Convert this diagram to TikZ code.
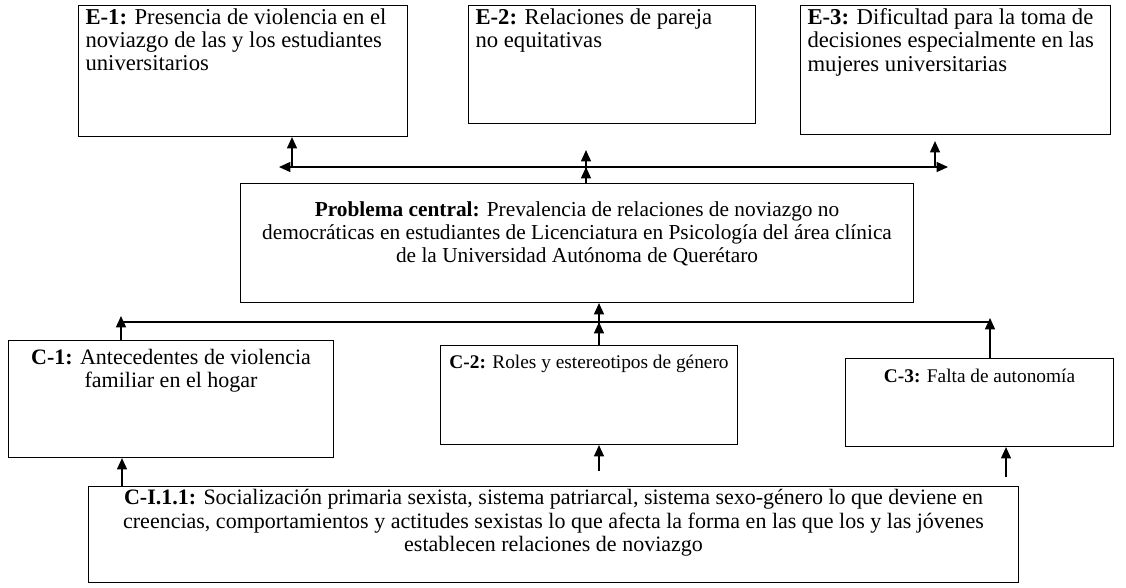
\documentclass[tikz,border=0pt]{standalone}
\usepackage{fontspec}
\setmainfont{Liberation Serif}
\usetikzlibrary{positioning, arrows.meta}

\newcommand{\boxtext}[3]{\begin{minipage}[t][#2pt][t]{#1pt}#3\end{minipage}}

\begin{document}
\begin{tikzpicture}[
    x=0.75pt, y=-0.75pt,
    every node/.style={font=\fontsize{16}{17.5}\selectfont},
    box/.style={rectangle, draw, line width=0.8pt, anchor=north west, inner xsep=5.25pt, inner ysep=2.25pt},
    big/.style={font=\fontsize{17}{17.5}\selectfont},
    small/.style={font=\fontsize{14.5}{16}\selectfont},
    link/.style={line width=1pt, -{Triangle[length=8.5pt, width=7.5pt]}},
    >={Triangle[length=8.5pt, width=7.5pt]}
]
\useasboundingbox (0,0) rectangle (1126,587);

% efectos
\node[box, big] (E1) at (78,5) {\boxtext{236.25}{93.75}{\raggedright\textbf{E-1:} Presencia de violencia en el\\ noviazgo de las y los estudiantes\\ universitarios}};
\node[box, big] (E2) at (468,5) {\boxtext{204.75}{84}{\raggedright\textbf{E-2:} Relaciones de pareja\\ no equitativas}};
\node[box, big] (E3) at (800,5) {\boxtext{222}{92.25}{\raggedright\textbf{E-3:} Dificultad para la toma de\\ decisiones especialmente en las\\ mujeres universitarias}};

% problema
\node[box] (central) at (240,183) {\boxtext{494.25}{84.75}{\centering\vspace*{11pt}\textbf{Problema central:} Prevalencia de relaciones de noviazgo no\\ democráticas en estudiantes de Licenciatura en Psicología del área clínica\\ de la Universidad Autónoma de Querétaro}};

% causas
\node[box, font=\fontsize{16.5}{17.5}\selectfont] (C1) at (8,340) {\boxtext{233.25}{83.25}{\centering\vspace*{4pt}\textbf{C-1:} Antecedentes de violencia\\ familiar en el hogar}};
\node[box, small] (C2) at (440,345) {\boxtext{212.25}{69.75}{\centering\vspace*{5pt}\textbf{C-2:} Roles y estereotipos de género}};
\node[box, small] (C3) at (845,358) {\boxtext{190.5}{61.5}{\centering\vspace*{6pt}\textbf{C-3:} Falta de autonomía}};
\node[box, font=\fontsize{16.5}{17.5}\selectfont] (CI) at (88,486) {\boxtext{687}{67.5}{\centering\textbf{C-I.1.1:} Socialización primaria sexista, sistema patriarcal, sistema sexo-género lo que deviene en\\ creencias, comportamientos y actitudes sexistas lo que afecta la forma en las que los y las jóvenes\\ establecen relaciones de noviazgo}};

\coordinate (tl) at (279,167);
\coordinate (tr) at (948,167);
\coordinate (a1) at (292,167);
\coordinate (a2) at (586,167);
\coordinate (a3) at (935,167);
\coordinate (bl) at (121,322);
\coordinate (br) at (990,322);
\coordinate (b2) at (599,322);
\coordinate (l1) at (122,486);
\coordinate (l2) at (599,471);
\coordinate (l3) at (1006,477);

% hacia los efectos
\draw[line width=1pt, <->] (tl) -- (tr);
\draw[link] (a1) -- (E1.south -| a1);
\draw[link, shorten >=4.5pt] (a3) -- (E3.south -| a3);
\draw[link] (central.north -| a2) -- (a2);
\draw[link, shorten >=19.5pt] (central.north -| a2) -- (E2.south -| a2);

% desde las causas
\draw[line width=1pt] (bl) -- (br);
\draw[link] (C1.north -| bl) -- ([yshift=4.5pt]bl);
\draw[link] (C3.north -| br) -- ([yshift=3pt]br);
\draw[link] (C2.north -| b2) -- (b2);
\draw[link] (C2.north -| b2) -- (central.south -| b2);
\draw[link] (l1) -- (C1.south -| l1);
\draw[link] (l2) -- (C2.south -| l2);
\draw[link] (l3) -- (C3.south -| l3);

\end{tikzpicture}
\end{document}
